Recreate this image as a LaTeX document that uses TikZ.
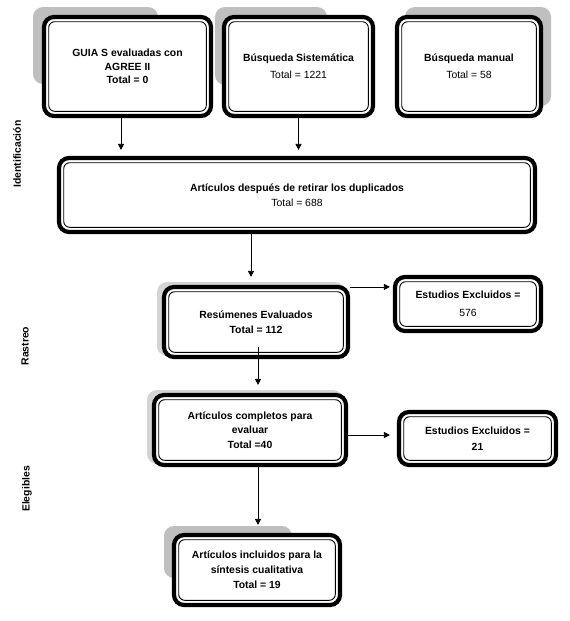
\documentclass[tikz,border=0pt]{standalone}
\usepackage{fontspec}
\setmainfont{Liberation Sans}
\usetikzlibrary{arrows.meta,calc}
\tikzset{
  box/.style={draw, line width=4.2pt, rounded corners=10pt, fill=white, inner sep=0pt,
    align=center, font=\fontsize{10.4}{#1}\selectfont\bfseries},
  box/.default=15,
  arr/.style={line width=0.8pt, -{Triangle[length=6pt,width=6pt]}},
  shadowbox/.style={fill=black!25, rounded corners=10pt},
  softshadow/.style={fill=black!17, rounded corners=10pt},
  side/.style={rotate=90, font=\fontsize{10.4}{12}\selectfont\bfseries},
}
\newcommand\innerline[1]{\draw[line width=0.9pt,rounded corners=6pt]
  ([shift={(6.8pt,-6.8pt)}]#1.north west) rectangle ([shift={(-6.8pt,6.8pt)}]#1.south east);}
\begin{document}
\begin{tikzpicture}[x=1pt,y=1pt]
\useasboundingbox (0,0) rectangle (570,-621);
\fill[white] (0,0) rectangle (570,-621);
% shadows
\fill[shadowbox] (33,-7) rectangle (158,-84);
\fill[shadowbox] (215,-7) rectangle (327,-85);
\fill[shadowbox] (405,-7) rectangle (551,-106);
\fill[softshadow] (157,-282) rectangle (345,-356);
\fill[softshadow] (147,-390) rectangle (343,-464);
\fill[shadowbox] (164,-526) rectangle (292,-578);
% boxes
\node[box=13.7, minimum width=167pt, minimum height=99pt] (g) at (127.5,-66.5)
  {GUIA S evaluadas con\\AGREE II\\Total = 0};
\node[box=17, minimum width=149pt, minimum height=99pt] (bs) at (298.5,-66.5)
  {Búsqueda Sistemática\\{\mdseries Total = 1221}};
\node[box=17, minimum width=144pt, minimum height=99pt] (bm) at (469,-66.5)
  {Búsqueda manual\\{\mdseries Total = 58}};
\node[box=15, minimum width=476pt, minimum height=74pt] (big) at (297,-195)
  {Artículos después de retirar los duplicados\\{\mdseries Total = 688}};
\node[box=15.5, minimum width=184pt, minimum height=70pt] (res) at (256,-322)
  {Resúmenes Evaluados\\Total = 112};
\node[box=18, minimum width=146pt, minimum height=54pt] (ex1) at (468,-304)
  {Estudios Excluidos =\\{\mdseries 576}};
\node[box=14.5, minimum width=192pt, minimum height=70pt] (comp) at (250,-430)
  {Artículos completos para\\evaluar\\Total =40};
\node[box=16, minimum width=157pt, minimum height=53pt] (ex2) at (477.5,-438.5)
  {Estudios Excluidos =\\21};
\node[box=15, minimum width=166pt, minimum height=70pt] (inc) at (257,-570)
  {Artículos incluidos para la\\síntesis cualitativa\\Total = 19};
\innerline{g}\innerline{bs}\innerline{bm}\innerline{big}\innerline{res}
\innerline{ex1}\innerline{comp}\innerline{ex2}\innerline{inc}
% side labels
\node[side] (lid) at (17,-154) {Identificación};
\node[side] (lra) at (25,-346) {Rastreo};
\node[side] (lel) at (27,-489) {Elegibles};
% connectors
\coordinate (a1) at ([xshift=-6.5pt]g.south);
\draw[arr, shorten >=6pt] (a1) -- (a1 |- big.north);
\draw[arr, shorten >=6pt] (bs.south) -- (bs.south |- big.north);
\coordinate (a3) at ([xshift=-5pt]res.north);
\draw[arr, shorten >=8pt] (a3 |- big.south) -- (a3);
\coordinate (a4) at ([yshift=-2pt]res.north east);
\draw[arr, shorten >=3pt] (a4) -- (a4 -| ex1.west);
\coordinate (a5) at ([xshift=2pt,yshift=12pt]res.south);
\draw[arr, shorten >=8pt] (a5) -- (a5 |- comp.north);
\coordinate (a6) at ([yshift=-5pt]comp.east);
\draw[arr, shorten >=7pt] (a6) -- (a6 -| ex2.west);
\coordinate (a7) at ([xshift=8pt]comp.south);
\draw[arr, shorten >=8pt] (a7) -- (a7 |- inc.north);
\end{tikzpicture}
\end{document}
